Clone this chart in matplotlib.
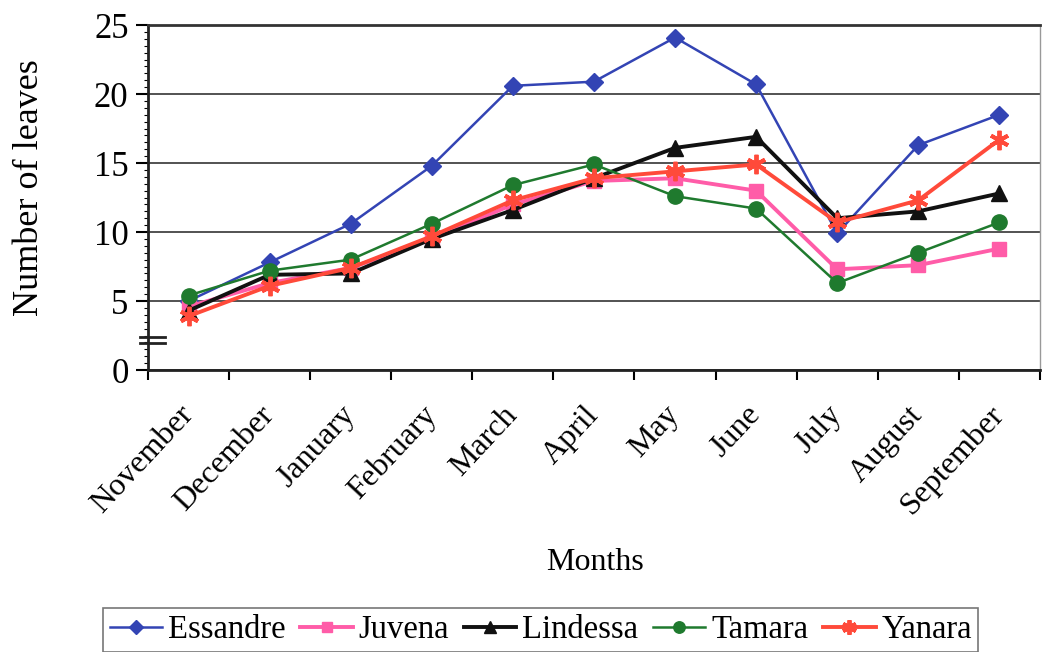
import matplotlib
matplotlib.use("Agg")
import matplotlib.pyplot as plt
import matplotlib.transforms as mtransforms
import numpy as np

months = ["November", "December", "January", "February", "March", "April",
          "May", "June", "July", "August", "September"]

essandre = [5.0, 7.8, 10.6, 14.8, 20.6, 20.9, 24.1, 20.7, 9.9, 16.3, 18.5]
juvena   = [4.6, 6.3, 7.4, 9.5, 12.0, 13.7, 13.9, 13.0, 7.3, 7.6, 8.8]
lindessa = [4.3, 6.9, 7.0, 9.5, 11.6, 13.9, 16.1, 16.9, 11.0, 11.5, 12.8]
tamara   = [5.4, 7.2, 8.0, 10.6, 13.4, 14.9, 12.6, 11.7, 6.3, 8.5, 10.7]
yanara   = [3.9, 6.1, 7.4, 9.7, 12.3, 13.9, 14.4, 14.9, 10.7, 12.3, 16.7]

yticks = [0, 5, 10, 15, 20, 25]

plt.rcParams["font.family"] = ["Liberation Serif", "DejaVu Serif"]

fig = plt.figure(figsize=(10.42, 6.52), dpi=100)
ax = fig.add_axes([0.142, 0.4325, 0.856, 0.529])

x = np.arange(len(months))

series = [
    ("Essandre", essandre, dict(color="#3344B4", marker="D", ms=9.5, lw=1.8)),
    ("Juvena", juvena, dict(color="#FF5CA8", marker="s", ms=10, lw=2.8)),
    ("Lindessa", lindessa, dict(color="#111111", marker="^", ms=11, lw=2.8)),
    ("Tamara", tamara, dict(color="#1F7A2E", marker="o", ms=11, lw=1.8)),
    ("Yanara", yanara, dict(color="#FF4A3A", marker=(6, 2, 0), ms=14, lw=2.8, mew=2.8)),
]
for name, vals, st in series:
    ax.plot(x, vals, label=name, zorder=3, **st)

ax.set_xlim(-0.5, len(months) - 0.5)
ax.set_ylim(0, 25)
ax.set_yticks(yticks)
ax.set_yticks(np.arange(0, 25.01, 0.5), minor=True)
ax.set_xticks(np.arange(len(months) + 1) - 0.5, minor=True)
ax.set_xticks(x)
ax.set_xticklabels(months, rotation=47, ha="right", rotation_mode="anchor",
                   fontsize=23, va="center")
ax.tick_params(axis="x", which="major", length=0, pad=29)
ax.tick_params(axis="x", which="minor", length=7, width=1.5, direction="out")
ax.tick_params(axis="y", which="major", length=9, width=1.5, labelsize=25, pad=5)
ax.tick_params(axis="y", which="minor", length=3, width=0.8)

ax.yaxis.grid(True, color="#444444", lw=1.3)
ax.set_axisbelow(True)
for side in ["left", "bottom"]:
    ax.spines[side].set_linewidth(2)
    ax.spines[side].set_color("#222222")
ax.spines["top"].set_linewidth(2)
ax.spines["top"].set_color("#333333")
ax.spines["right"].set_linewidth(1)
ax.spines["right"].set_color("#999999")

# axis break mark near the bottom of the value axis
trans = mtransforms.blended_transform_factory(ax.transAxes, ax.transData)
for yb in (1.95, 2.4):
    ax.plot([-0.009, 0.019], [yb, yb], transform=trans, color="#222222",
            lw=2, clip_on=False, zorder=5)

ax.set_ylabel("Number of leaves", fontsize=26)
ax.yaxis.set_label_coords(-0.114, 0.53)
fig.text(0.571, 0.138, "Months", fontsize=23, ha="center", va="center")

leg = fig.legend(loc="center", bbox_to_anchor=(0.519, 0.034), ncol=5,
                 fontsize=23.5, frameon=True, fancybox=False, edgecolor="#555555",
                 handlelength=1.6, handletextpad=0.18, columnspacing=0.46,
                 borderpad=0.2, borderaxespad=0, markerscale=0.75)
leg.get_frame().set_linewidth(1.2)

fig.savefig("out.png", dpi=100)
